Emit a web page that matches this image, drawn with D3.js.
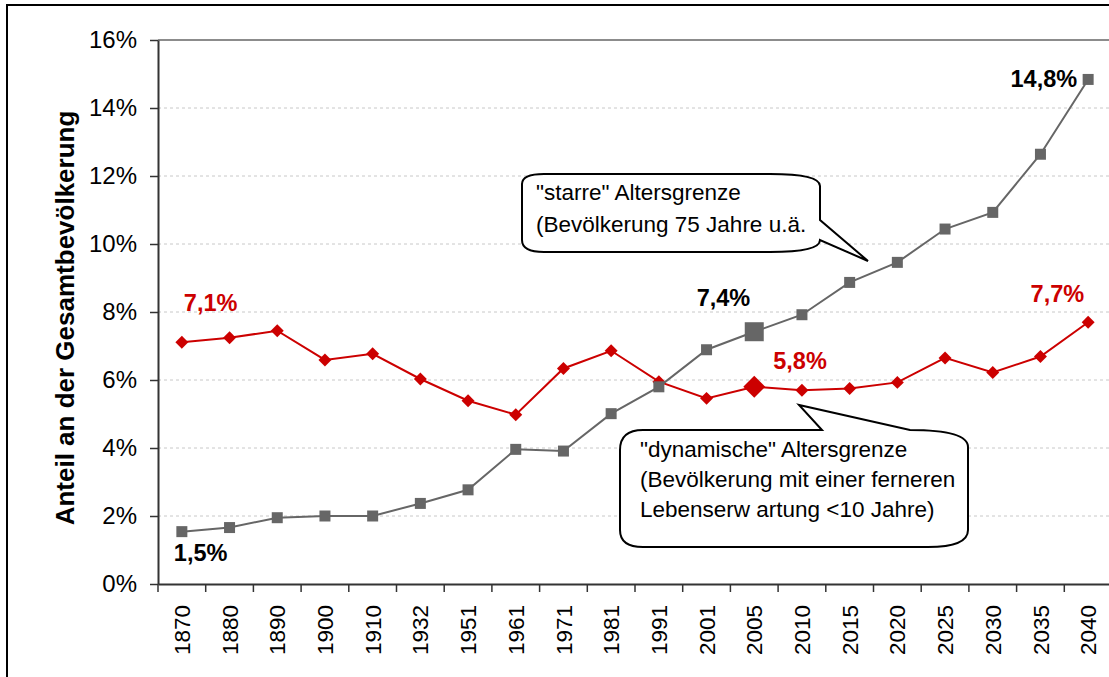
<!DOCTYPE html>
<html>
<head>
<meta charset="utf-8">
<script src="https://cdn.jsdelivr.net/npm/d3@7"></script>
<style>
    body { margin: 0; background: #fff; }
    text { font-family: Arial, "Liberation Sans", sans-serif; }
</style>
</head>
<body>
<div id="chart"></div>
<script>

// categories (x axis)
var years = ["1870", "1880", "1890", "1900", "1910", "1932", "1951", "1961", "1971", "1981",
    "1991", "2001", "2005", "2010", "2015", "2020", "2025", "2030", "2035", "2040"];

// "starre" Altersgrenze (75 Jahre u.ä.), in %
var starreValues = [1.54, 1.66, 1.95, 2.0, 2.0, 2.37, 2.77, 3.96, 3.91, 5.01,
    5.8, 6.89, 7.42, 7.92, 8.87, 9.46, 10.44, 10.93, 12.64, 14.84];

// "dynamische" Altersgrenze (fernere Lebenserwartung < 10 Jahre), in %
var dynamValues = [7.11, 7.24, 7.45, 6.59, 6.77, 6.03, 5.39, 4.98, 6.34, 6.86,
    5.95, 5.46, 5.8, 5.7, 5.75, 5.93, 6.65, 6.22, 6.69, 7.7];

var yTicks = [0, 2, 4, 6, 8, 10, 12, 14, 16];

// years that get a value label, and the highlighted year
var starreLabelYears = ["1870", "2005", "2040"];
var dynamLabelYears = ["1870", "2005", "2040"];
var highlightYear = "2005";

var yTitle = "Anteil an der Gesamtbevölkerung";
var calloutStarre = ["\"starre\" Altersgrenze", "(Bevölkerung 75 Jahre u.ä."];
var calloutDynam = ["\"dynamische\" Altersgrenze", "(Bevölkerung mit einer ferneren", "Lebenserw artung <10 Jahre)"];


LineChart = function(_parentElement){
    this.parentElement = _parentElement;
    this.initVis();
};

LineChart.prototype.initVis = function(){
    var vis = this;

    vis.width = 1109;
    vis.height = 677;
    vis.plot = { left: 158, right: 1112, top: 40, bottom: 584 };

    vis.svg = d3.select(vis.parentElement).append("svg")
        .attr("width", vis.width)
        .attr("height", vis.height)
        .style("display", "block");

    vis.svg.append("rect")
        .attr("width", vis.width)
        .attr("height", vis.height)
        .attr("fill", "#fff");

    // outer frame (runs off to the right and bottom)
    vis.svg.append("rect")
        .attr("x", 7)
        .attr("y", 5)
        .attr("width", vis.width + 10)
        .attr("height", vis.height + 10)
        .attr("fill", "none")
        .attr("stroke", "#000")
        .attr("stroke-width", 2);

    vis.x = d3.scaleBand()
        .domain(years)
        .range([vis.plot.left, vis.plot.right]);

    vis.y = d3.scaleLinear()
        .domain([0, 16])
        .range([vis.plot.bottom, vis.plot.top]);

    vis.fmt = function(v) { return d3.format(".1f")(v).replace(".", ",") + "%"; };

    vis.updateVis();
};

LineChart.prototype.updateVis = function(){
    var vis = this;
    var x = vis.x, y = vis.y;
    var cx = function(yr) { return x(yr) + x.bandwidth() / 2; };

    // gridlines
    vis.svg.selectAll(".grid")
        .data(yTicks.filter(function(d) { return d > 0; }))
        .enter().append("line")
        .attr("class", "grid")
        .attr("x1", vis.plot.left)
        .attr("x2", vis.plot.right)
        .attr("y1", function(d) { return y(d); })
        .attr("y2", function(d) { return y(d); })
        .attr("stroke", function(d) { return d === 16 ? "#8c8c8c" : "#c8c8c8"; })
        .attr("stroke-width", function(d) { return d === 16 ? 2 : 1; })
        .attr("stroke-dasharray", function(d) { return d === 16 ? null : "3,3"; });

    // y axis
    var yAxis = vis.svg.append("g")
        .attr("transform", "translate(" + vis.plot.left + ",0)")
        .call(d3.axisLeft(y)
            .tickValues(yTicks)
            .tickSize(8)
            .tickSizeOuter(0)
            .tickPadding(13)
            .tickFormat(function(d) { return d + "%"; }));
    yAxis.select(".domain").attr("stroke", "#333").attr("stroke-width", 2);
    yAxis.selectAll(".tick line").attr("stroke", "#333").attr("stroke-width", 1.5);
    yAxis.selectAll(".tick text")
        .attr("fill", "#000")
        .style("font-size", "24px");

    // x axis
    var xAxis = vis.svg.append("g")
        .attr("transform", "translate(0," + vis.plot.bottom + ")")
        .call(d3.axisBottom(x).tickSize(0).tickSizeOuter(0).tickPadding(0));
    xAxis.select(".domain").attr("stroke", "#333").attr("stroke-width", 2);
    xAxis.selectAll(".tick text")
        .attr("transform", "rotate(-90)")
        .attr("x", -21)
        .attr("y", 0)
        .attr("dy", "0.36em")
        .style("text-anchor", "end")
        .style("font-size", "22.5px")
        .attr("fill", "#000");

    // ticks sit between the categories
    vis.svg.selectAll(".xtick")
        .data(years)
        .enter().append("line")
        .attr("class", "xtick")
        .attr("x1", function(d) { return x(d); })
        .attr("x2", function(d) { return x(d); })
        .attr("y1", vis.plot.bottom)
        .attr("y2", vis.plot.bottom + 8)
        .attr("stroke", "#333")
        .attr("stroke-width", 1.5);

    // y title
    vis.svg.append("text")
        .attr("transform", "translate(74," + ((vis.plot.top + vis.plot.bottom) / 2 + 6) + ") rotate(-90)")
        .attr("text-anchor", "middle")
        .style("font-size", "26px")
        .style("font-weight", "bold")
        .text(yTitle);

    var line = d3.line()
        .x(function(d) { return cx(d.year); })
        .y(function(d) { return y(d.value); });

    var starre = years.map(function(yr, i) { return { year: yr, value: starreValues[i] }; });
    var dynam = years.map(function(yr, i) { return { year: yr, value: dynamValues[i] }; });

    // dynamische series (red diamonds)
    vis.svg.append("path")
        .datum(dynam)
        .attr("d", line)
        .attr("fill", "none")
        .attr("stroke", "#cc0000")
        .attr("stroke-width", 2);

    vis.svg.selectAll(".dyn")
        .data(dynam)
        .enter().append("path")
        .attr("class", "dyn")
        .attr("d", function(d) {
            return d3.symbol().type(d3.symbolSquare).size(d.year === highlightYear ? 240 : 84)();
        })
        .attr("transform", function(d) { return "translate(" + cx(d.year) + "," + y(d.value) + ") rotate(45)"; })
        .attr("fill", "#cc0000");

    // starre series (grey squares)
    vis.svg.append("path")
        .datum(starre)
        .attr("d", line)
        .attr("fill", "none")
        .attr("stroke", "#666")
        .attr("stroke-width", 2);

    vis.svg.selectAll(".sta")
        .data(starre)
        .enter().append("path")
        .attr("class", "sta")
        .attr("d", function(d) {
            return d3.symbol().type(d3.symbolSquare).size(d.year === highlightYear ? 361 : 121)();
        })
        .attr("transform", function(d) { return "translate(" + cx(d.year) + "," + y(d.value) + ")"; })
        .attr("fill", "#666");

    // value labels, offsets from their points
    var starreOffsets = { "1870": [-8, 29, "start"], "2005": [-4, -26, "end"], "2040": [-11, 8, "end"] };
    var dynamOffsets = { "1870": [2, -31, "start"], "2005": [19, -18, "start"], "2040": [-4, -20, "end"] };

    function addLabels(data, labelYears, offsets, color) {
        vis.svg.selectAll(null)
            .data(data.filter(function(d) { return labelYears.indexOf(d.year) >= 0; }))
            .enter().append("text")
            .attr("x", function(d) { return cx(d.year) + offsets[d.year][0]; })
            .attr("y", function(d) { return y(d.value) + offsets[d.year][1]; })
            .attr("text-anchor", function(d) { return offsets[d.year][2]; })
            .style("font-size", "23.5px")
            .style("font-weight", "bold")
            .attr("fill", color)
            .text(function(d) { return vis.fmt(d.value); });
    }
    addLabels(starre, starreLabelYears, starreOffsets, "#000");
    addLabels(dynam, dynamLabelYears, dynamOffsets, "#cc0000");

    // callouts
    var c1 = "M522,184 Q522,174 544,174 L770,174 Q820,174 820,186 L820,220 L868,261 L820,240 " +
        "Q820,252 770,252 L544,252 Q522,252 522,240 Z";
    var c2 = "M620,450 Q620,430 643,430 L822,430 L799,405 L910,430 Q968,430 968,447 L968,530 " +
        "Q968,547 928,547 L643,547 Q620,547 620,530 Z";

    [c1, c2].forEach(function(p) {
        vis.svg.append("path")
            .attr("d", p)
            .attr("fill", "#fff")
            .attr("stroke", "#000")
            .attr("stroke-width", 2);
    });

    function calloutText(lines, x0, y0, lh) {
        vis.svg.append("g").selectAll("text")
            .data(lines)
            .enter().append("text")
            .attr("x", x0)
            .attr("y", function(d, i) { return y0 + i * lh; })
            .style("font-size", "22.5px")
            .attr("fill", "#000")
            .text(function(d) { return d; });
    }
    calloutText(calloutStarre, 536, 200, 32);
    calloutText(calloutDynam, 640, 457, 30);
};

new LineChart("#chart");

</script>
</body>
</html>
